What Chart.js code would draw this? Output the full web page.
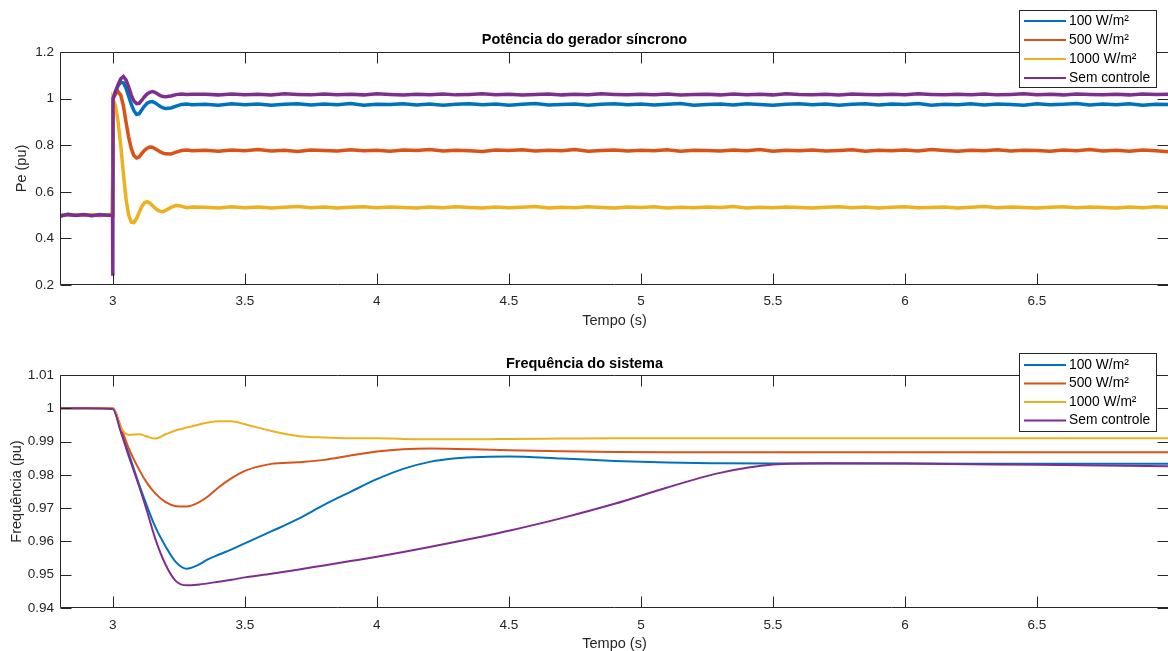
<!DOCTYPE html>
<html><head><meta charset="utf-8">
<script src="https://cdn.jsdelivr.net/npm/chart.js@4.4.1/dist/chart.umd.min.js"></script>
<style>
html,body{margin:0;padding:0;background:#fff;overflow:hidden;width:1168px;height:651px;position:relative;}
#w1{position:absolute;left:0;top:0;width:1170px;height:330px;}
#w2{position:absolute;left:0;top:330px;width:1170px;height:330px;}
</style></head><body>
<div id="w1"><canvas id="c1" width="1170" height="330"></canvas></div>
<div id="w2"><canvas id="c2" width="1170" height="330"></canvas></div>
<script>
// ---------- data: top chart (Potência) ----------
const tTop = [2.8,2.83,2.86,2.89,2.92,2.95,2.98,2.999,3.0,3.001,
3.01,3.02,3.03,3.04,3.05,3.06,3.07,3.08,3.09,3.10,3.11,3.12,3.13,3.14,3.15,3.16,3.17,3.18,3.19,3.20,
3.22,3.24,3.26,3.28,3.30,
3.35,3.4,3.45,3.5,3.55,3.6,3.65,3.7,3.75,3.8,3.85,3.9,3.95,4,4.05,4.1,4.15,4.2,4.25,4.3,4.35,4.4,4.45,4.5,4.55,4.6,4.65,4.7,4.75,4.8,4.85,4.9,4.95,5,5.05,5.1,5.15,5.2,5.25,5.3,5.35,5.4,5.45,5.5,5.55,5.6,5.65,5.7,5.75,5.8,5.85,5.9,5.95,6,6.05,6.1,6.15,6.2,6.25,6.3,6.35,6.4,6.45,6.5,6.55,6.6,6.65,6.7,6.75,6.8,6.85,6.9,6.95,7];

const pe100 = [0.497,0.502,0.499,0.501,0.498,0.502,0.499,0.5,0.5,1.0,
1.03,1.055,1.07,1.068,1.045,1.01,0.975,0.948,0.932,0.935,0.952,0.968,0.98,0.986,0.987,0.982,0.974,0.966,0.96,0.958,
0.96,0.968,0.975,0.977,0.974,
0.976,0.972,0.978,0.974,0.977,0.971,0.976,0.978,0.973,0.977,
0.974,0.979,0.972,0.976,0.975,0.978,0.973,0.977,0.971,0.976,
0.978,0.974,0.977,0.972,0.976,0.979,0.973,0.975,0.977,0.972,
0.976,0.978,0.974,0.977,0.973,0.976,0.979,0.972,0.975,0.977,
0.973,0.978,0.975,0.971,0.976,0.978,0.974,0.977,0.972,0.976,
0.978,0.973,0.977,0.975,0.979,0.972,0.976,0.974,0.978,0.973,
0.977,0.975,0.972,0.978,0.974,0.976,0.979,0.973,0.977,0.974,
0.978,0.972,0.976,0.975];

const pe500 = [0.498,0.501,0.502,0.499,0.5,0.498,0.501,0.5,0.5,1.0,
1.02,1.03,1.015,0.97,0.90,0.835,0.785,0.755,0.745,0.75,0.765,0.778,0.787,0.792,0.791,0.785,0.778,0.771,0.766,0.763,
0.762,0.77,0.777,0.779,0.776,
0.778,0.774,0.779,0.776,0.781,0.775,0.778,0.773,0.779,0.777,
0.775,0.780,0.776,0.778,0.774,0.779,0.777,0.781,0.775,0.778,
0.776,0.773,0.779,0.777,0.780,0.775,0.778,0.776,0.781,0.774,
0.777,0.779,0.775,0.778,0.776,0.780,0.774,0.778,0.777,0.775,
0.779,0.776,0.781,0.774,0.778,0.776,0.779,0.775,0.777,0.780,
0.774,0.778,0.776,0.779,0.775,0.781,0.777,0.774,0.778,0.776,
0.780,0.775,0.778,0.777,0.774,0.779,0.776,0.781,0.775,0.778,
0.774,0.779,0.776,0.772];

const pe1000 = [0.5,0.499,0.501,0.5,0.502,0.499,0.5,0.5,0.5,0.995,
0.97,0.90,0.80,0.68,0.57,0.50,0.47,0.468,0.485,0.512,0.537,0.553,0.558,0.552,0.541,0.53,0.521,0.516,0.515,0.52,
0.533,0.542,0.538,0.532,0.535,
0.534,0.531,0.536,0.532,0.535,0.530,0.534,0.537,0.532,0.535,
0.531,0.534,0.536,0.532,0.535,0.533,0.530,0.535,0.532,0.536,
0.533,0.531,0.535,0.532,0.534,0.537,0.531,0.534,0.532,0.536,
0.533,0.530,0.535,0.533,0.536,0.531,0.534,0.532,0.535,0.533,
0.537,0.531,0.534,0.532,0.535,0.533,0.530,0.534,0.536,0.532,
0.535,0.531,0.534,0.536,0.532,0.533,0.535,0.531,0.534,0.537,
0.532,0.535,0.533,0.530,0.534,0.536,0.532,0.535,0.533,0.531,
0.535,0.532,0.536,0.533];

const peSem = [0.495,0.503,0.498,0.502,0.497,0.501,0.499,0.5,0.24,1.0,
1.03,1.06,1.085,1.095,1.08,1.05,1.015,0.99,0.978,0.98,0.993,1.008,1.02,1.027,1.03,1.027,1.02,1.013,1.009,1.008,
1.011,1.017,1.02,1.018,1.019,
1.019,1.016,1.020,1.017,1.019,1.015,1.021,1.018,1.016,1.020,
1.017,1.019,1.016,1.021,1.018,1.015,1.019,1.017,1.020,1.016,
1.018,1.021,1.017,1.019,1.015,1.018,1.020,1.016,1.019,1.017,
1.021,1.018,1.016,1.019,1.017,1.020,1.015,1.018,1.019,1.016,
1.020,1.017,1.019,1.016,1.021,1.018,1.017,1.019,1.015,1.020,
1.018,1.016,1.019,1.017,1.021,1.018,1.016,1.019,1.017,1.020,
1.016,1.018,1.021,1.017,1.019,1.016,1.020,1.018,1.017,1.019,
1.016,1.020,1.018,1.019];

// ---------- data: bottom chart (Frequência) ----------
const tBot = [2.8,2.9,3.0,3.03,3.06,3.1,3.13,3.16,3.2,3.24,3.28,3.32,3.36,3.4,3.45,3.5,3.6,3.7,3.8,3.9,4.0,4.1,4.2,4.3,4.4,4.5,4.7,4.9,5.1,5.3,5.5,5.7,6.0,6.5,7.0];
const f100 = [1.0,1.0,1.0,0.9935,0.9865,0.977,0.9705,0.9645,0.9585,0.9537,0.9518,0.9528,0.9546,0.956,0.9576,0.9594,0.963,0.9667,0.971,0.9749,0.9787,0.9818,0.9839,0.985,0.9854,0.9855,0.9849,0.9842,0.9837,0.9835,0.9834,0.9834,0.9834,0.9833,0.9833];
const f500 = [1.0,1.0,1.0,0.9945,0.988,0.9815,0.9775,0.9745,0.9718,0.9706,0.9705,0.9715,0.9735,0.9762,0.979,0.9812,0.9833,0.9838,0.9845,0.9858,0.987,0.9877,0.9879,0.9878,0.9876,0.9874,0.9871,0.9869,0.9868,0.9868,0.9868,0.9868,0.9868,0.9868,0.9868];
const f1000 = [1.0,1.0,1.0,0.9942,0.992,0.9922,0.9915,0.9909,0.9922,0.9934,0.9942,0.995,0.9957,0.9961,0.9961,0.9952,0.9932,0.9917,0.9912,0.991,0.991,0.9908,0.9907,0.9907,0.9907,0.9908,0.9909,0.991,0.991,0.991,0.991,0.991,0.991,0.991,0.991];
const fSem = [1.0,1.0,0.9998,0.993,0.9857,0.9765,0.969,0.961,0.953,0.948,0.9468,0.947,0.9474,0.9479,0.9485,0.9492,0.9503,0.9515,0.9528,0.9541,0.9554,0.9568,0.9583,0.9599,0.9615,0.9632,0.967,0.9713,0.9762,0.9806,0.9831,0.9835,0.9834,0.983,0.9826];

// ---------- labels / ticks ----------
const seriesNames = ['100 W/m²','500 W/m²','1000 W/m²','Sem controle'];
const seriesColors = ['#0072BD','#D95319','#EDB120','#7E2F8E'];
const xTicks = [3,3.5,4,4.5,5,5.5,6,6.5];
const xTickLabels = ['3','3.5','4','4.5','5','5.5','6','6.5'];
const yTicksTop = [0.2,0.4,0.6,0.8,1.0,1.2];
const yTickLabelsTop = ['0.2','0.4','0.6','0.8','1','1.2'];
const yTicksBot = [0.94,0.95,0.96,0.97,0.98,0.99,1.0,1.01];
const yTickLabelsBot = ['0.94','0.95','0.96','0.97','0.98','0.99','1','1.01'];

const FONT = "'Liberation Sans', Arial, Helvetica, sans-serif";
const AX = '#262626';

const framePlugin = {
  id: 'frame',
  afterDatasetsDraw(chart) {
    const {ctx, chartArea: a, scales: {x, y}} = chart;
    const L = Math.round(a.left) + 0.5, R = Math.round(a.right) - 0.5;
    const T = Math.round(a.top) + 0.5, B = Math.round(a.bottom) - 0.5;
    ctx.save();
    ctx.strokeStyle = AX; ctx.lineWidth = 1;
    ctx.beginPath();
    ctx.moveTo(L, T); ctx.lineTo(R, T); ctx.lineTo(R, B); ctx.lineTo(L, B); ctx.closePath();
    const tl = 11;
    x.ticks.forEach(t => {
      const px = Math.round(x.getPixelForValue(t.value)) + 0.5;
      ctx.moveTo(px, B); ctx.lineTo(px, B - tl);
      ctx.moveTo(px, T); ctx.lineTo(px, T + tl);
    });
    y.ticks.forEach(t => {
      const py = Math.round(y.getPixelForValue(t.value)) + 0.5;
      ctx.moveTo(L, py); ctx.lineTo(L + tl, py);
      ctx.moveTo(R, py); ctx.lineTo(R - tl, py);
    });
    ctx.stroke();
    ctx.restore();
  },
  afterDraw(chart, args, opts) {
    const {ctx} = chart;
    const bx = 1019.5, by = opts.top + 0.5, bw = 137, bh = opts.height;
    ctx.save();
    ctx.fillStyle = '#fff';
    ctx.fillRect(bx, by, bw, bh);
    ctx.strokeStyle = AX; ctx.lineWidth = 1;
    ctx.strokeRect(bx, by, bw, bh);
    ctx.font = '13.8px ' + FONT;
    ctx.textBaseline = 'middle';
    ctx.textAlign = 'left';
    chart.data.datasets.forEach((ds, i) => {
      const yy = opts.top + opts.first + i * opts.step;
      ctx.strokeStyle = ds.borderColor; ctx.lineWidth = 2;
      ctx.beginPath(); ctx.moveTo(1024, yy); ctx.lineTo(1066, yy); ctx.stroke();
      ctx.fillStyle = '#000';
      ctx.fillText(ds.label, 1069, yy);
    });
    ctx.restore();
  }
};

function makeDatasets(t, arrays, width, smooth) {
  return arrays.map((arr, i) => ({
    label: seriesNames[i],
    data: t.map((tv, k) => ({x: tv, y: arr[k]})),
    borderColor: seriesColors[i],
    backgroundColor: seriesColors[i],
    borderWidth: width,
    pointRadius: 0,
    fill: false,
    order: 3 - i,
    tension: 0,
    cubicInterpolationMode: smooth ? 'monotone' : 'default'
  }));
}

function makeChart(id, cfg) {
  return new Chart(document.getElementById(id), {
    type: 'line',
    data: {datasets: makeDatasets(cfg.t, cfg.series, cfg.width, cfg.smooth)},
    plugins: [framePlugin],
    options: {
      responsive: false, animation: false, devicePixelRatio: 1,
      layout: {padding: {left: 0, right: 1, top: 0, bottom: 0}},
      plugins: {
        legend: {display: false},
        tooltip: {enabled: false},
        title: {display: true, text: cfg.title, color: '#000',
          font: {family: FONT, size: 14.5, weight: 'bold', lineHeight: 1.2},
          padding: {top: cfg.titleTop, bottom: cfg.titleBottom}},
        frame: cfg.legend
      },
      scales: {
        x: {
          type: 'linear', min: 2.8, max: 7,
          grid: {display: false, drawTicks: false}, border: {display: false},
          afterBuildTicks: s => { s.ticks = xTicks.map(v => ({value: v})); },
          afterFit: s => { s.height = cfg.xHeight; },
          ticks: {color: AX, font: {family: FONT, size: 13.5}, padding: cfg.xPad, maxRotation: 0,
            callback: (v, i) => xTickLabels[i]},
          title: {display: true, text: 'Tempo (s)', color: AX,
            font: {family: FONT, size: 14.5, lineHeight: 1.2}, padding: {top: 0, bottom: cfg.xTitlePad}}
        },
        y: {
          type: 'linear', min: cfg.ymin, max: cfg.ymax,
          grid: {display: false, drawTicks: false}, border: {display: false},
          afterBuildTicks: s => { s.ticks = cfg.yTicks.map(v => ({value: v})); },
          afterFit: s => { s.width = 60; },
          ticks: {color: AX, font: {family: FONT, size: 13.5}, padding: 6,
            callback: (v, i) => cfg.yLabels[i]},
          title: {display: true, text: cfg.ytitle, color: AX,
            font: {family: FONT, size: 14.5, lineHeight: 1.2}, padding: {top: cfg.yTitlePad, bottom: 0}}
        }
      }
    }
  });
}

makeChart('c1', {
  t: tTop, series: [pe100, pe500, pe1000, peSem], width: 3.5, smooth: false,
  title: 'Potência do gerador síncrono', titleTop: 31.3, titleBottom: 3.3,
  xHeight: 45, xPad: 8, xTitlePad: 0.8,
  ymin: 0.2, ymax: 1.2, yTicks: yTicksTop, yLabels: yTickLabelsTop,
  ytitle: 'Pe (pu)', yTitlePad: 13.3,
  legend: {top: 10, height: 77, first: 11, step: 19}
});
makeChart('c2', {
  t: tBot, series: [f100, f500, f1000, fSem], width: 2, smooth: true,
  title: 'Frequência do sistema', titleTop: 25, titleBottom: 2.6,
  xHeight: 52, xPad: 9, xTitlePad: 7.3,
  ymin: 0.94, ymax: 1.01, yTicks: yTicksBot, yLabels: yTickLabelsBot,
  ytitle: 'Frequência (pu)', yTitlePad: 8.3,
  legend: {top: 23, height: 78, first: 12, step: 18.5}
});
</script>
</body></html>
